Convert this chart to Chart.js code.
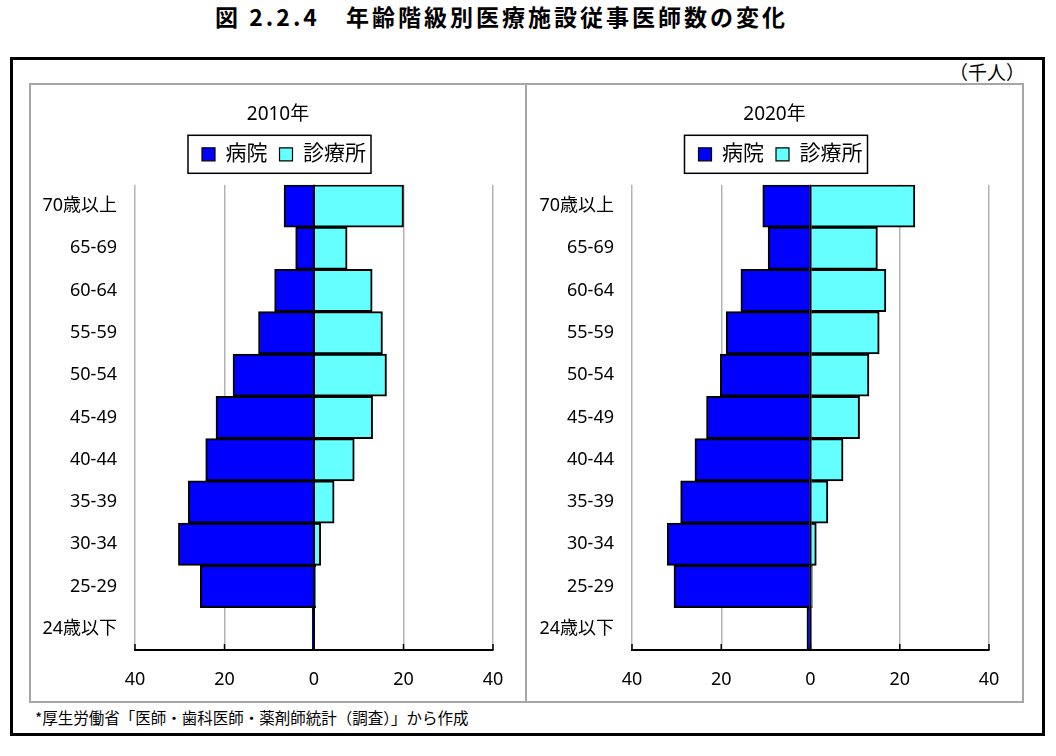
<!DOCTYPE html>
<html><head><meta charset="utf-8">
<script src="https://cdn.jsdelivr.net/npm/chart.js@4/dist/chart.umd.min.js"></script>
<style>
html,body{margin:0;padding:0;background:#fff;width:1056px;height:756px;overflow:hidden;font-family:"Noto Sans","Noto Sans CJK JP",sans-serif;color:#000;}
#title{position:absolute;left:0;top:3px;width:1003px;text-align:center;font-size:23px;line-height:27px;letter-spacing:3px;font-weight:bold;font-family:"Noto Sans CJK JP",sans-serif;}
#outer{position:absolute;left:10px;top:57px;width:1035px;height:679px;border:3px solid #000;box-sizing:border-box;}
#unit{position:absolute;right:31px;top:60px;font-size:19px;line-height:24px;font-family:"Noto Sans CJK JP",sans-serif;}
#panel{position:absolute;left:29px;top:83px;width:995px;height:620px;border:2px solid #a6a6a6;box-sizing:border-box;}
#divider{position:absolute;left:494px;top:0;width:2px;height:616px;background:#a6a6a6;}
#c1{position:absolute;left:0;top:0;}
#c2{position:absolute;left:496px;top:0;}
#note{position:absolute;left:35px;top:707px;font-size:15.5px;line-height:20px;font-family:"Noto Sans CJK JP",sans-serif;}
</style></head>
<body>
<div id="title">図 2.2.4　年齢階級別医療施設従事医師数の変化</div>
<div id="outer"></div>
<div id="unit">（千人）</div>
<div id="panel">
  <canvas id="c1" width="494" height="616"></canvas>
  <div id="divider"></div>
  <canvas id="c2" width="495" height="616"></canvas>
</div>
<div id="note">*厚生労働省「医師・歯科医師・薬剤師統計（調査）」から作成</div>
<script>
const categories = ['70歳以上','65-69','60-64','55-59','50-54','45-49','40-44','35-39','30-34','25-29','24歳以下'];
const seriesNames = ['病院','診療所'];
const hospital2010 = [6.7, 4.1, 8.8, 12.4, 18.1, 21.9, 24.2, 28.1, 30.3, 25.4, 0.4];
const clinic2010   = [20.0, 7.4, 13.0, 15.3, 16.2, 13.1, 9.0, 4.5, 1.5, 0.4, 0.05];
const hospital2020 = [10.7, 9.5, 15.6, 18.9, 20.2, 23.3, 25.9, 29.1, 32.1, 30.6, 0.8];
const clinic2020   = [23.4, 15.0, 16.9, 15.4, 13.1, 11.0, 7.3, 3.9, 1.3, 0.4, 0.05];
const xTickValues = [-40, -20, 0, 20, 40];
const panelTitles = ['2010年', '2020年'];

const FONT = '"Noto Sans", "Noto Sans CJK JP", sans-serif';
Chart.defaults.font.family = FONT;
Chart.defaults.color = '#000';

const legendSpace = {
  id: 'legendSpace',
  beforeInit(chart) {
    const fit = chart.legend.fit;
    chart.legend.fit = function() { fit.bind(chart.legend)(); this.height += 10; };
  },
  afterLayout(chart) {
    chart.legend.left += 6;
    chart.legend.right += 6;
  }
};
const legendBorder = {
  id: 'legendBorder',
  afterDraw(chart) {
    const hb = chart.legend.legendHitBoxes;
    if (!hb || !hb.length) return;
    const last = hb[hb.length - 1];
    const cy = hb[0].top + hb[0].height / 2;
    const ctx = chart.ctx;
    ctx.save();
    ctx.strokeStyle = '#000';
    ctx.lineWidth = 1.5;
    const l = hb[0].left - 14, r = last.left + last.width + 5;
    ctx.strokeRect(l, cy - 19, r - l, 38);
    ctx.restore();
  }
};
const axisDeco = {
  id: 'axisDeco',
  afterDatasetsDraw(chart) {
    const {ctx, chartArea: a, scales: {x}} = chart;
    ctx.save();
    ctx.strokeStyle = '#000';
    const x0 = x.getPixelForValue(0);
    ctx.lineWidth = 2;
    ctx.beginPath(); ctx.moveTo(x0, a.top); ctx.lineTo(x0, a.bottom); ctx.stroke();
    ctx.lineWidth = 1.5;
    x.ticks.forEach(t => {
      const px = x.getPixelForValue(t.value);
      ctx.beginPath(); ctx.moveTo(px, a.bottom); ctx.lineTo(px, a.bottom - 6); ctx.stroke();
    });
    ctx.restore();
  }
};

function makeChart(id, title, hosp, clin, leftW, rightW) {
  return new Chart(document.getElementById(id), {
    type: 'bar',
    data: {
      labels: categories,
      datasets: [
        {label: seriesNames[0], data: hosp.map(v => -v), backgroundColor: '#0000FF', borderColor: '#000', borderWidth: 2, barPercentage: 1, categoryPercentage: 1},
        {label: seriesNames[1], data: clin, backgroundColor: '#66FFFF', borderColor: '#000', borderWidth: 2, barPercentage: 1, categoryPercentage: 1}
      ]
    },
    options: {
      indexAxis: 'y',
      responsive: false,
      animation: false,
      devicePixelRatio: 1,
      layout: {padding: 0},
      scales: {
        x: {
          type: 'linear', min: -40, max: 40, stacked: true,
          afterBuildTicks: s => { s.ticks = xTickValues.map(v => ({value: v})); },
          ticks: {callback: v => Math.abs(v), color: '#000', font: {size: 18}, padding: 19, maxRotation: 0},
          grid: {color: c => (c.tick && c.tick.value === 0) ? 'rgba(0,0,0,0)' : '#b3b3b3', lineWidth: 1.5, drawTicks: false},
          border: {display: true, color: '#000', width: 2},
          afterFit: s => { s.height = 51; }
        },
        y: {
          type: 'category', stacked: true,
          grid: {display: false, drawTicks: false},
          border: {display: false},
          ticks: {color: '#000', font: {size: 18}, padding: 18},
          afterFit: s => { s.width = leftW; }
        },
        ySpace: {
          type: 'category', position: 'right',
          grid: {display: false, drawTicks: false},
          border: {display: false},
          ticks: {display: false},
          afterFit: s => { s.width = rightW; }
        }
      },
      plugins: {
        title: {display: true, text: title, color: '#000', font: {size: 19, weight: 'normal'}, padding: {top: 18, bottom: 6}},
        legend: {
          position: 'top',
          labels: {
            boxWidth: 13, boxHeight: 13, padding: 12, color: '#000', font: {size: 21},
            generateLabels: ch => Chart.defaults.plugins.legend.labels.generateLabels(ch).map(l => Object.assign(l, {lineWidth: 1.2}))
          }
        },
        tooltip: {enabled: false}
      }
    },
    plugins: [legendSpace, legendBorder, axisDeco]
  });
}
makeChart('c1', panelTitles[0], hospital2010, clinic2010, 104, 32);
makeChart('c2', panelTitles[1], hospital2020, clinic2020, 105, 33);
</script>
</body></html>
